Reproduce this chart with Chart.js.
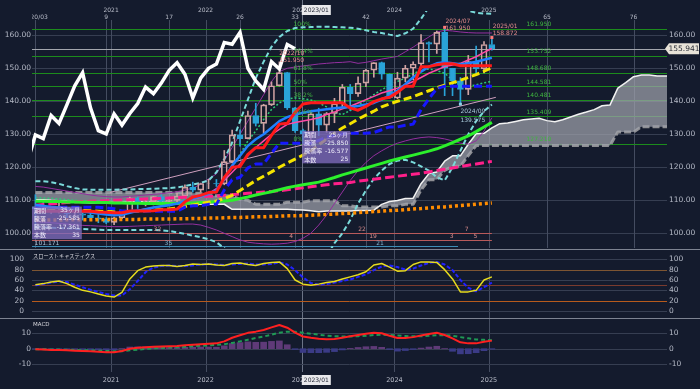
<!DOCTYPE html>
<html><head><meta charset="utf-8">
<script src="https://cdn.jsdelivr.net/npm/chart.js@4.4.1/dist/chart.umd.min.js"></script>
<style>
html,body{margin:0;padding:0;background:#141b2d;overflow:hidden}
#wrap{position:relative;width:700px;height:389px;background:#141b2d}
canvas{position:absolute;left:0}
.dv{position:absolute;left:0;width:700px;height:1px;background:#7d8391}
</style></head><body>
<div id="wrap">
<canvas id="cMain" width="700" height="249" style="top:0px"></canvas>
<canvas id="cSto" width="700" height="68" style="top:250px"></canvas>
<canvas id="cMacd" width="700" height="70" style="top:319px"></canvas>
<div class="dv" style="top:249px"></div>
<div class="dv" style="top:318px"></div>
</div>
<script>
// ---------------- DATA (monthly, 2020/03 .. 2025/01, index 0..58) ----------------
const OPEN=[108.0,107.5,107.2,107.8,107.9,105.9,105.9,105.5,104.7,104.3,103.3,104.7,106.6,110.7,109.3,109.6,111.1,109.7,110.0,111.3,114.0,113.1,115.1,115.1,115.0,121.7,129.8,128.7,135.7,133.3,138.9,144.7,148.7,138.0,131.1,130.1,136.2,132.8,136.3,139.3,144.3,142.3,145.5,149.4,151.7,148.2,141.0,147.0,150.0,151.3,157.8,157.3,160.9,150.0,146.2,143.6,152.0,149.8,157.2];
const HIGH=[111.7,109.4,108.1,109.85,107.9,107.0,106.55,106.1,105.7,104.75,104.9,106.7,110.97,110.96,110.2,111.1,111.66,110.8,112.1,114.7,115.5,115.2,116.35,116.3,125.1,131.25,131.35,137.0,139.4,139.1,145.9,151.95,148.8,138.2,131.6,136.9,137.9,136.6,140.9,145.1,145.1,147.4,149.7,151.7,151.9,148.3,148.8,150.9,151.97,160.2,157.99,161.3,161.95,150.0,147.2,153.9,156.75,158.1,158.87];
const LOW=[101.17,106.4,106.0,106.1,104.2,105.1,104.0,104.0,103.2,102.9,102.59,104.4,106.4,107.5,108.3,108.6,109.1,108.7,109.1,110.8,112.5,112.5,113.5,114.2,114.7,121.3,126.4,128.6,132.5,130.4,138.7,144.6,137.5,130.6,127.21,128.1,129.6,130.6,133.5,138.4,137.2,141.5,144.4,147.3,146.7,140.9,140.8,145.9,146.5,150.8,151.9,154.5,141.7,141.7,139.58,142.0,148.0,148.6,155.5];
const CLOSE=[107.5,107.2,107.8,107.9,105.9,105.9,105.5,104.7,104.3,103.3,104.7,106.6,110.7,109.3,109.6,111.1,109.7,110.0,111.3,114.0,113.1,115.1,115.1,115.0,121.7,129.8,128.7,135.7,133.3,138.9,144.7,148.7,138.0,131.1,130.1,136.2,132.8,136.3,139.3,144.3,142.3,145.5,149.4,151.7,148.2,141.0,147.0,150.0,151.3,157.8,157.3,160.9,150.0,146.2,143.6,152.0,149.8,157.2,155.94];

const TENKAN=[106.69,106.69,106.69,106.69,106.69,106.69,106.69,106.69,106.44,106.38,106.22,106.22,106.78,106.78,106.78,106.85,107.13,107.13,107.35,109.55,110.95,111.5,112.33,112.48,116.9,119.98,120.23,123.9,125.95,125.95,129.7,133.08,133.33,136.63,139.18,139.58,139.58,139.58,139.58,139.58,138.0,137.3,138.45,139.9,140.75,141.25,142.7,144.55,144.59,150.5,150.5,151.05,151.38,151.38,150.77,150.77,150.77,150.77,150.77];
const KIJUN=[107.87,107.87,107.87,107.87,107.87,107.87,107.87,107.87,107.87,107.69,107.44,106.79,106.79,106.79,106.79,106.69,106.69,106.69,106.69,107.94,108.34,108.34,108.77,108.77,113.14,116.22,116.97,119.8,121.0,121.0,124.25,127.27,127.27,127.27,127.27,127.27,128.18,129.18,129.73,130.13,130.28,130.33,130.33,130.53,131.38,132.23,132.23,132.73,133.08,137.45,140.75,143.85,144.58,144.58,144.58,144.58,144.58,144.58,144.58];
const MA_BLUE=[108.6,108.3,108.0,107.8,107.4,107.0,106.6,106.3,106.0,105.7,105.5,105.6,106.2,106.8,107.3,107.8,108.2,108.5,109.0,109.8,110.5,111.2,112.0,113.0,116.5,120.5,123.5,126.5,128.5,130.0,132.0,134.0,135.2,136.0,136.5,137.0,137.3,137.6,137.9,138.1,138.3,138.6,139.0,139.5,140.5,141.8,143.2,145.2,147.3,149.0,150.5,151.5,151.8,151.5,151.2,151.5,152.0,152.6,153.2];
const MA_YELLOW=[107.8,107.6,107.4,107.3,107.1,107.0,106.9,106.8,106.7,106.6,106.5,106.5,106.6,106.7,106.8,107.0,107.2,107.4,107.7,108.1,108.6,109.0,109.4,109.8,110.5,111.5,113.0,114.5,116.0,117.3,118.6,120.0,121.3,122.5,123.7,125.0,126.8,128.6,130.4,131.9,133.2,134.6,135.8,137.0,138.3,139.2,140.0,140.7,141.4,142.3,143.2,144.1,144.9,145.6,146.4,147.2,148.1,149.1,150.2];
const MA_GREEN=[109.7,109.7,109.6,109.6,109.5,109.5,109.4,109.4,109.3,109.3,109.2,109.2,109.1,109.1,109.0,109.0,109.0,109.0,109.0,109.1,109.2,109.3,109.4,109.6,109.8,110.0,110.5,111.0,111.6,112.1,112.6,113.2,113.8,114.3,114.7,115.1,115.5,116.2,116.9,117.7,118.4,119.1,119.8,120.5,121.2,121.9,122.5,123.1,123.7,124.3,124.9,125.6,126.5,127.5,128.5,129.5,130.8,132.2,133.6];
const MA_PINK=[108.5,108.7,108.9,109.1,109.3,109.5,109.6,109.7,109.8,109.9,110.0,110.1,110.2,110.3,110.4,110.5,110.6,110.7,110.8,110.9,111.0,111.1,111.2,111.3,111.5,111.7,111.9,112.1,112.3,112.5,112.7,112.9,113.2,113.5,113.8,114.1,114.4,114.7,115.0,115.2,115.4,115.8,116.1,116.4,116.7,117.0,117.3,117.6,117.9,118.2,118.6,119.0,119.4,119.8,120.2,120.6,121.0,121.4,121.8];
const MA_ORANGE=[104.0,104.0,104.0,104.0,104.1,104.1,104.1,104.1,104.1,104.2,104.2,104.2,104.2,104.2,104.3,104.3,104.3,104.3,104.4,104.4,104.5,104.5,104.6,104.6,104.7,104.8,104.8,104.9,105.0,105.0,105.1,105.2,105.3,105.3,105.4,105.5,105.6,105.7,105.8,106.0,106.1,106.3,106.4,106.6,106.7,106.9,107.0,107.2,107.4,107.5,107.7,107.9,108.0,108.2,108.4,108.6,108.8,109.0,109.2];
const LINE_PINK=[108.0,107.9,107.8,107.6,107.4,107.1,106.9,106.7,106.5,106.3,106.1,106.2,106.6,107.0,107.4,107.8,108.2,108.6,109.0,109.6,110.3,111.0,112.0,113.5,116.0,118.5,121.0,123.5,126.0,128.0,130.0,131.5,133.0,133.6,134.0,134.5,135.0,136.0,136.8,137.7,138.5,139.5,140.5,141.5,142.5,143.2,144.0,145.0,146.0,147.2,148.5,149.5,150.5,151.0,151.5,152.5,153.5,154.8,156.0];
const BAND_CYAN_UP=[115.8,115.8,115.5,115.0,114.3,113.7,113.3,113.2,113.2,113.2,113.2,113.3,113.3,113.4,113.4,113.5,113.6,113.7,113.9,114.3,114.8,115.3,116.0,118.5,122.5,127.5,134.0,140.5,147.0,152.0,156.5,159.5,161.3,162.2,162.4,162.5,162.6,162.6,162.5,162.4,162.3,162.0,161.5,161.0,160.7,160.2,159.8,160.6,162.0,165.0,168.5,171.0,172.0,171.0,169.5,167.5,166.8,166.6,166.5];
const BAND_CYAN_LO=[101.8,101.8,101.7,101.6,101.5,101.4,101.3,101.2,101.1,101.0,101.0,101.0,101.0,101.0,101.0,101.0,100.9,100.7,100.3,99.8,99.3,98.8,98.2,97.3,95.5,92.0,88.0,84.0,80.0,77.0,75.0,74.0,74.0,75.0,77.0,80.0,85.0,93.0,97.0,100.0,104.0,109.0,113.0,116.5,119.0,121.0,122.0,122.3,121.5,120.3,119.0,117.0,116.0,120.0,125.0,130.0,134.0,137.0,139.0];
const BAND_PURPLE_UP=[114.2,114.0,113.6,113.2,112.8,112.4,112.0,111.6,111.3,111.1,111.0,111.0,111.2,111.4,111.6,111.8,112.0,112.3,112.6,113.1,113.7,114.8,116.5,118.0,122.0,126.0,130.0,134.0,138.0,142.0,146.0,149.0,150.0,150.4,150.7,151.0,151.3,151.5,151.7,151.8,152.0,151.5,151.8,152.3,152.8,153.2,153.6,155.0,156.4,158.0,159.5,161.0,161.5,161.3,161.0,160.8,160.7,160.7,160.7];
const BAND_PURPLE_LO=[103.5,103.4,103.2,103.0,102.8,102.6,102.4,102.3,102.2,102.1,102.0,102.0,102.1,102.2,102.3,102.4,102.5,102.6,102.7,102.8,102.8,102.5,101.8,101.0,100.0,99.0,98.0,97.3,97.0,96.8,96.7,96.8,97.0,97.5,98.5,100.0,102.5,105.5,109.0,112.5,116.0,119.0,121.5,123.5,125.0,126.3,127.3,128.0,128.6,129.0,129.2,129.0,128.6,128.0,127.3,127.0,128.0,131.0,135.0];
const BAND_GREEN_UP=[110.8,110.7,110.6,110.4,110.2,110.0,109.8,109.6,109.4,109.3,109.2,109.2,109.3,109.5,109.6,109.7,109.8,110.0,110.2,110.5,110.8,111.2,111.6,112.5,116.0,120.0,124.0,128.0,131.0,134.5,137.5,139.5,140.7,141.0,140.8,140.4,139.5,138.3,136.5,136.0,137.2,138.8,140.4,142.0,143.5,144.8,146.0,147.0,148.3,149.5,149.8,149.3,148.5,146.5,144.2,144.5,145.0,145.6,146.0];
const TREND_X=[9.5,58.5], TREND_Y=[112.4,141.2];
// Ichimoku cloud, plotted index 0..81
const SPAN_A=[110.2,110.2,110.0,109.9,109.7,109.5,109.3,109.2,109.2,109.3,109.4,109.4,109.5,109.6,109.5,109.4,109.4,109.3,109.2,109.0,108.9,108.8,108.8,108.8,108.8,107.28,107.28,107.28,107.28,107.28,107.28,107.28,107.28,107.15,107.04,106.83,106.5,106.78,106.78,106.78,106.77,106.91,106.91,107.02,108.75,109.65,109.92,110.55,110.63,115.02,118.09,118.6,121.85,123.48,123.48,126.98,130.18,130.3,131.95,133.23,133.43,133.88,134.38,134.66,134.86,134.14,133.82,134.39,135.22,136.07,136.74,137.47,138.64,138.84,143.98,145.63,147.45,147.98,147.98,147.68,147.68,147.68];
const SPAN_B=[112.4,112.4,112.4,112.4,112.4,112.4,112.4,112.4,112.4,112.4,112.4,112.4,112.4,112.4,112.4,112.4,112.4,112.4,112.4,112.4,112.1,112.1,111.37,111.37,111.37,111.3,110.3,110.0,108.8,108.8,108.8,108.8,109.4,109.4,109.4,109.9,109.9,109.9,109.9,108.34,108.34,107.96,107.96,107.96,107.96,108.34,108.34,108.77,108.77,113.14,116.22,116.27,119.09,120.29,120.29,123.54,126.57,126.57,126.57,126.57,126.57,126.57,126.57,126.57,126.57,126.57,126.57,126.57,126.57,126.57,126.57,126.57,126.57,126.57,130.69,130.69,130.69,132.27,132.27,132.27,132.27,132.27];
// Slow stochastics
const STO_K=[51,53,56,58,53,46,40,37,33,29,27,36,62,78,85,87,88,88,86,88,91,90,91,89,88,92,93,90,88,92,94,95,82,60,52,50,52,55,57,62,66,70,76,89,92,85,77,78,90,95,95,94,80,62,37,37,40,60,66];
const STO_D=[50,52,55,57,56,51,46,41,37,33,30,30,42,58,75,84,87,88,87,87,88,90,91,90,89,90,91,92,90,90,91,94,90,79,65,54,51,52,55,58,61,66,71,79,86,88,85,80,82,88,93,95,90,79,60,45,38,46,55];
// MACD
const MACD=[-0.4,-0.6,-0.8,-0.9,-1.1,-1.3,-1.5,-1.7,-2.0,-2.3,-2.4,-1.5,0.0,0.6,1.0,1.3,1.5,1.6,1.8,2.2,2.6,3.0,3.3,3.5,4.8,7.2,8.8,10.4,11.2,12.3,14.0,15.6,13.8,10.6,8.0,7.2,6.6,6.2,6.3,7.2,8.2,9.0,9.8,10.5,10.1,8.5,7.0,7.1,7.6,8.6,9.6,10.5,9.0,6.8,4.2,3.5,3.5,4.5,5.3];
const SIGNAL=[-0.3,-0.4,-0.5,-0.6,-0.7,-0.8,-1.0,-1.1,-1.3,-1.5,-1.7,-1.6,-1.1,-0.6,-0.2,0.2,0.5,0.8,1.0,1.3,1.6,1.9,2.2,2.5,2.9,3.8,4.8,5.9,7.0,8.0,9.2,10.5,11.2,11.1,10.5,9.8,9.2,8.6,8.2,8.0,8.0,8.2,8.5,9.0,9.2,9.0,8.6,8.3,8.1,8.2,8.5,8.9,8.9,8.5,7.6,6.8,6.1,5.8,5.6];
const HIST=[-0.1,-0.2,-0.3,-0.3,-0.4,-0.5,-0.5,-0.6,-0.7,-0.8,-0.7,0.1,1.1,1.2,1.2,1.1,1.0,0.8,0.8,0.9,1.0,1.1,1.1,1.0,1.9,3.4,4.0,4.5,4.2,4.3,4.8,5.1,2.6,-0.5,-2.5,-2.6,-2.6,-2.4,-1.9,-0.8,0.2,0.8,1.3,1.5,0.9,-0.5,-1.6,-1.2,-0.5,0.4,1.1,1.6,0.1,-1.7,-3.4,-3.3,-2.6,-1.3,-0.3];

const FIB_LEVELS=[161.950,153.752,148.680,144.581,140.481,135.409,127.210];
const FIB_PCT=['100%','76.4%','61.8%','50%','38.2%','23.6%','0%'];
const FIB_TXT=['161.950','153.752','148.680','144.581','140.481','135.409','127.210'];
const MAIN_TICKS=[100,110,120,130,140,150,160];
const STO_TICKS=[0,20,40,60,80,100];
const MACD_TICKS=[-10,0,10];
const PRICE=155.941;
const YEAR_POS=[9.62,21.62,33.62,45.62,57.62];
const YEAR_TXT=['2021','2022','2023','2024','2025'];
const COUNT_POS=[0,9,17,26,33,42,65,76];
const COUNT_TXT=['2020/03','9','17','26','33','42','65','76'];
const CROSS=33.85;
const BOX1=['期間','35ヶ月','騰落','-25.585','騰落率','-17.361','本数','35'];
const BOX2=['期間','25ヶ月','騰落','-25.850','騰落率','-16.577','本数','25'];
const CYCLE_LABELS=[[15.5,0,'32'],[16.9,2,'35'],[32.5,1,'4'],[41.5,0,'22'],[42.9,1,'19'],[43.8,2,'21'],[54.8,0,'7'],[52.9,1,'3'],[55.9,1,'5']];

// ---------------- helpers ----------------
const F_NUM='"DejaVu Sans","Liberation Sans",sans-serif';
const F_JP='"Noto Sans CJK JP","Noto Sans CJK SC",sans-serif';
const X_MIN=-0.43, X_MAX=80.25;
const BULL='#cfa3a3', BEAR='#2aa3d8';
const VGRID='#444c60', HGRID='#363e51';
function pts(arr,start){start=start||0;return arr.map((v,i)=>({x:i+start,y:v}));}
function lineDs(arr,color,width,dash,order,start){
  return {type:'line',data:pts(arr,start),borderColor:color,borderWidth:width,borderDash:dash||[],pointRadius:0,fill:false,tension:0,order:order,borderCapStyle:'butt',borderJoinStyle:'round'};
}
function txt(ctx,s,x,y,color,size,align,base,fam){
  ctx.fillStyle=color;ctx.font=size+'px '+(fam||F_NUM);ctx.textAlign=align||'left';ctx.textBaseline=base||'middle';ctx.fillText(s,x,y);
}
function vline(ctx,px,y0,y1,color){px=Math.round(px)+0.5;ctx.strokeStyle=color;ctx.lineWidth=1;ctx.beginPath();ctx.moveTo(px,y0);ctx.lineTo(px,y1);ctx.stroke();}
function hline(ctx,py,x0,x1,color,w){py=Math.round(py)+0.5;ctx.strokeStyle=color;ctx.lineWidth=w||1;ctx.beginPath();ctx.moveTo(x0,py);ctx.lineTo(x1,py);ctx.stroke();}
function yAxis(pos,min,max,ticks,fmt,width,grid,pad){
  return {position:pos,min:min,max:max,
    afterFit(s){s.width=width;s.paddingTop=0;s.paddingBottom=0;},
    afterBuildTicks(s){s.ticks=ticks.map(v=>({value:v}));},
    grid:{display:grid,color:HGRID,drawTicks:false},border:{display:false},
    ticks:{color:'#b4b9c6',font:{size:7.5,family:F_NUM},padding:pad,callback:fmt,autoSkip:false}};
}
const bull=i=>CLOSE[i]>=OPEN[i];

// ---------------- main chart ----------------
const mainDeco={id:'mainDeco',
  beforeDatasetsDraw(chart){
    const {ctx,chartArea:a,scales:{x,y}}=chart;
    ctx.save();ctx.beginPath();ctx.rect(a.left,0,a.right-a.left,a.bottom);ctx.clip();
    [0,9,17,26,33,42,65,76,9.62,21.62,45.62,57.62].forEach(v=>vline(ctx,x.getPixelForValue(v),20,a.bottom,VGRID));
    vline(ctx,x.getPixelForValue(CROSS),0,a.bottom,'#6c7486');
    FIB_LEVELS.forEach(l=>hline(ctx,y.getPixelForValue(l),a.left,a.right,'#1c8c1c'));
    hline(ctx,y.getPixelForValue(100.0),a.left,x.getPixelForValue(58),'#b85a5a');
    hline(ctx,y.getPixelForValue(98.0),a.left,x.getPixelForValue(58),'#b85a5a');
    hline(ctx,y.getPixelForValue(96.0),a.left,x.getPixelForValue(53.7),'#3d8db5');
    hline(ctx,y.getPixelForValue(PRICE),a.left,a.right,'#a3a6ad');
    ctx.restore();
  },
  afterDatasetsDraw(chart){
    const {ctx,chartArea:a,scales:{x,y}}=chart;
    ctx.save();ctx.beginPath();ctx.rect(a.left,0,a.right-a.left,a.bottom);ctx.clip();
    const G='#3fb83f';
    FIB_LEVELS.forEach((l,i)=>{
      const py=y.getPixelForValue(l);
      txt(ctx,FIB_PCT[i],x.getPixelForValue(32.8),py-1,G,6,'left','bottom');
      txt(ctx,FIB_TXT[i],x.getPixelForValue(62.4),py-1,G,6,'left','bottom');
    });
    const R='#e58c8c', Bl='#a9c9d9';
    txt(ctx,'2022/10',x.getPixelForValue(31),y.getPixelForValue(154.6),R,6,'left','middle');
    txt(ctx,'151.950',x.getPixelForValue(31),y.getPixelForValue(152.5),R,6,'left','middle');
    txt(ctx,'2024/07',x.getPixelForValue(52.1),y.getPixelForValue(164.2),R,6,'left','middle');
    txt(ctx,'161.950',x.getPixelForValue(52.1),y.getPixelForValue(162.0),R,6,'left','middle');
    txt(ctx,'2025/01',x.getPixelForValue(58.1),y.getPixelForValue(162.8),R,6,'left','middle');
    txt(ctx,'158.872',x.getPixelForValue(58.1),y.getPixelForValue(160.7),R,6,'left','middle');
    txt(ctx,'2024/09',x.getPixelForValue(54),y.getPixelForValue(137.0),Bl,6,'left','middle');
    txt(ctx,'139.575',x.getPixelForValue(54),y.getPixelForValue(134.3),Bl,6,'left','middle');
    ctx.fillStyle='#ff7a7a';
    [[52,161.95],[58,158.87]].forEach(p=>ctx.fillRect(x.getPixelForValue(p[0])-1.5,y.getPixelForValue(p[1])-3,3,3));
    ctx.fillStyle='#8fd3e6';ctx.fillRect(x.getPixelForValue(54)-1.5,y.getPixelForValue(139.58),3,3);
    function box(x0,x1,vTop,vBot,rows){
      const px0=x.getPixelForValue(x0),px1=x.getPixelForValue(x1),py0=y.getPixelForValue(vTop),py1=y.getPixelForValue(vBot);
      ctx.fillStyle='rgba(128,108,190,0.78)';ctx.fillRect(px0,py0,px1-px0,py1-py0);
      const h=(py1-py0)/4;
      for(let r=0;r<4;r++){
        txt(ctx,rows[2*r],px0+2,py0+h*(r+0.5),'#f0eefc',6,'left','middle',F_JP);
        txt(ctx,rows[2*r+1],px1-2,py0+h*(r+0.5),'#f0eefc',6,'right','middle',F_NUM);
      }
    }
    box(-0.43,5.9,108.1,98.2,BOX1);
    box(33.9,40.0,131.0,121.2,BOX2);
    txt(ctx,'101.171',x.getPixelForValue(-0.1),y.getPixelForValue(97.0),'#a9c0d6',6,'left','middle');
    const rowV=[101.1,98.9,97.0];
    CYCLE_LABELS.forEach(c=>txt(ctx,c[2],x.getPixelForValue(c[0]),y.getPixelForValue(rowV[c[1]]),c[1]==2?'#7fb3cf':'#d68a8a',6,'center','middle'));
    ctx.restore();
  },
  afterDraw(chart){
    const {ctx,chartArea:a,scales:{x,y}}=chart;
    ctx.save();ctx.beginPath();ctx.rect(a.left,0,a.right-a.left,30);ctx.clip();
    YEAR_POS.forEach((v,i)=>txt(ctx,YEAR_TXT[i],x.getPixelForValue(v),10,'#b8bcc8',6,'center','middle'));
    COUNT_POS.forEach((v,i)=>txt(ctx,COUNT_TXT[i],x.getPixelForValue(v),17,'#b8bcc8',6,'center','middle'));
    ctx.restore();
    const cx=x.getPixelForValue(CROSS);
    ctx.fillStyle='#e9e9ec';ctx.fillRect(cx,5,29,10);
    txt(ctx,'2023/01',cx+14.5,10.5,'#1e2230',6,'center','middle');
    const py=y.getPixelForValue(PRICE);
    ctx.fillStyle='#e8e3d8';ctx.beginPath();ctx.moveTo(a.right-2,py);ctx.lineTo(a.right+2,py-5.5);ctx.lineTo(699,py-5.5);ctx.lineTo(699,py+5.5);ctx.lineTo(a.right+2,py+5.5);ctx.closePath();ctx.fill();
    txt(ctx,'155.941',a.right+17,py+0.5,'#2a2d36',7.5,'center','middle');
  }
};

const mainDatasets=[
  Object.assign(lineDs(SPAN_A,'#f2f2f2',1.5,[],100),{fill:'+1',backgroundColor:'rgba(160,162,172,0.72)'}),
  lineDs(SPAN_B,'#8e8f94',3,[7,3],101),
  lineDs(BAND_CYAN_UP,'#7adada',2,[5,3],80),
  lineDs(BAND_CYAN_LO,'#7adada',2,[5,3],80),
  lineDs(BAND_PURPLE_UP,'#94309f',1,[],81),
  lineDs(BAND_PURPLE_LO,'#94309f',1,[],81),
  lineDs(BAND_GREEN_UP,'#2fc878',1.5,[2,2],79),
  {type:'line',data:TREND_X.map((v,i)=>({x:v,y:TREND_Y[i]})),borderColor:'#cfa0bf',borderWidth:1,pointRadius:0,fill:false,order:82},
  {type:'bar',data:LOW.map((v,i)=>({x:i,y:[LOW[i],Math.min(OPEN[i],CLOSE[i])]})),backgroundColor:c=>bull(c.dataIndex)?BULL:BEAR,barThickness:1,grouped:false,order:62,borderWidth:0},
  {type:'bar',data:HIGH.map((v,i)=>({x:i,y:[Math.max(OPEN[i],CLOSE[i]),HIGH[i]]})),backgroundColor:c=>bull(c.dataIndex)?BULL:BEAR,barThickness:1,grouped:false,order:62,borderWidth:0},
  {type:'bar',data:OPEN.map((v,i)=>({x:i,y:[Math.min(OPEN[i],CLOSE[i]),Math.max(OPEN[i],CLOSE[i])]})),backgroundColor:c=>bull(c.dataIndex)?'rgba(0,0,0,0)':BEAR,borderColor:c=>bull(c.dataIndex)?BULL:BEAR,borderWidth:1,borderSkipped:false,barThickness:6,grouped:false,order:61},
  lineDs(MA_ORANGE,'#ff8c00',3.5,[3,3],30),
  lineDs(MA_PINK,'#ff1f8a',3,[9,4],29),
  lineDs(MA_GREEN,'#2cf02c',3,[],28),
  lineDs(MA_YELLOW,'#f4e400',3,[8,4],27),
  lineDs(LINE_PINK,'#ff4aa5',1.5,[],26),
  lineDs(KIJUN,'#1717ff',3,[8,4],25),
  lineDs(MA_BLUE,'#2080ff',2.5,[],24),
  lineDs(TENKAN,'#ff1a1a',3,[],23),
  {type:'line',data:CLOSE.slice(24).map((v,k)=>({x:k-1,y:v})),borderColor:'#ffffff',borderWidth:3.5,pointRadius:0,fill:false,tension:0,order:1,borderJoinStyle:'miter'}
];

new Chart(document.getElementById('cMain'),{
  type:'line',data:{datasets:mainDatasets},
  options:{responsive:false,animation:false,events:[],
    plugins:{legend:{display:false},tooltip:{enabled:false}},
    layout:{padding:{top:11,bottom:1,left:0,right:0}},
    scales:{
      x:{type:'linear',min:X_MIN,max:X_MAX,display:false,offset:false},
      y:yAxis('right',95.545,167.36,MAIN_TICKS,v=>v.toFixed(2),33,true,2),
      yl:yAxis('left',95.545,167.36,MAIN_TICKS,v=>v.toFixed(2),32,false,1)
    }},
  plugins:[mainDeco]
});

const stoDeco={id:'stoDeco',
  beforeDatasetsDraw(chart){
    const {ctx,chartArea:a,scales:{x,y}}=chart;
    ctx.save();
    [9.62,21.62,45.62,57.62].forEach(v=>vline(ctx,x.getPixelForValue(v),a.top,a.bottom,VGRID));
    vline(ctx,x.getPixelForValue(CROSS),a.top,a.bottom,'#6c7486');
    [100,60,40,0].forEach(v=>hline(ctx,y.getPixelForValue(v),a.left,a.right,HGRID));
    hline(ctx,y.getPixelForValue(80),a.left,a.right,'#7d5532');
    hline(ctx,y.getPixelForValue(50),a.left,a.right,'#7a3b2e');
    hline(ctx,y.getPixelForValue(20),a.left,a.right,'#b65a1c');
    txt(ctx,'スローストキャスティクス',a.left+1,6.5,'#d8d8de',5.2,'left','middle',F_JP);
    ctx.restore();
  }};
new Chart(document.getElementById('cSto'),{
  type:'line',
  data:{datasets:[
    lineDs(STO_D,'#2222ff',2,[4,2],2),
    lineDs(STO_K,'#e6dc1e',1.5,[],1)
  ]},
  options:{responsive:false,animation:false,events:[],
    plugins:{legend:{display:false},tooltip:{enabled:false}},
    layout:{padding:0},
    scales:{
      x:{type:'linear',min:X_MIN,max:X_MAX,display:false},
      y:yAxis('right',-13.5,118,STO_TICKS,v=>String(v),33,false,2),
      yl:yAxis('left',-13.5,118,STO_TICKS,v=>String(v),32,false,8)
    }},
  plugins:[stoDeco]
});

const macdDeco={id:'macdDeco',
  beforeDatasetsDraw(chart){
    const {ctx,chartArea:a,scales:{x,y}}=chart;
    ctx.save();
    [9.62,21.62,45.62,57.62].forEach(v=>vline(ctx,x.getPixelForValue(v),a.top,a.bottom,VGRID));
    vline(ctx,x.getPixelForValue(CROSS),a.top,a.bottom,'#6c7486');
    MACD_TICKS.forEach(v=>hline(ctx,y.getPixelForValue(v),a.left,a.right,HGRID));
    txt(ctx,'MACD',a.left+1,6,'#d8d8de',5.5,'left','middle',F_NUM);
    ctx.restore();
  },
  afterDraw(chart){
    const {ctx,chartArea:a,scales:{x}}=chart;
    YEAR_POS.forEach((v,i)=>txt(ctx,YEAR_TXT[i],x.getPixelForValue(v),61,'#b8bcc8',6.5,'center','middle'));
    const cx=x.getPixelForValue(CROSS);
    ctx.fillStyle='#e9e9ec';ctx.fillRect(cx,56,29,10);
    txt(ctx,'2023/01',cx+14.5,61.5,'#1e2230',6,'center','middle');
  }};
new Chart(document.getElementById('cMacd'),{
  type:'line',
  data:{datasets:[
    {type:'bar',data:pts(HIST),backgroundColor:c=>(HIST[c.dataIndex]>=0?'#5f3a78':'#3b3b86'),barThickness:6,grouped:false,order:5},
    lineDs(SIGNAL,'#1f9a55',2,[4,3],2),
    lineDs(MACD,'#ff2020',2,[],1)
  ]},
  options:{responsive:false,animation:false,events:[],
    plugins:{legend:{display:false},tooltip:{enabled:false}},
    layout:{padding:{top:0,bottom:17}},
    scales:{
      x:{type:'linear',min:X_MIN,max:X_MAX,display:false,offset:false},
      y:yAxis('right',-15.3,19.5,MACD_TICKS,v=>String(v),33,false,2),
      yl:yAxis('left',-15.3,19.5,MACD_TICKS,v=>String(v),32,false,1)
    }},
  plugins:[macdDeco]
});
</script>
</body></html>
